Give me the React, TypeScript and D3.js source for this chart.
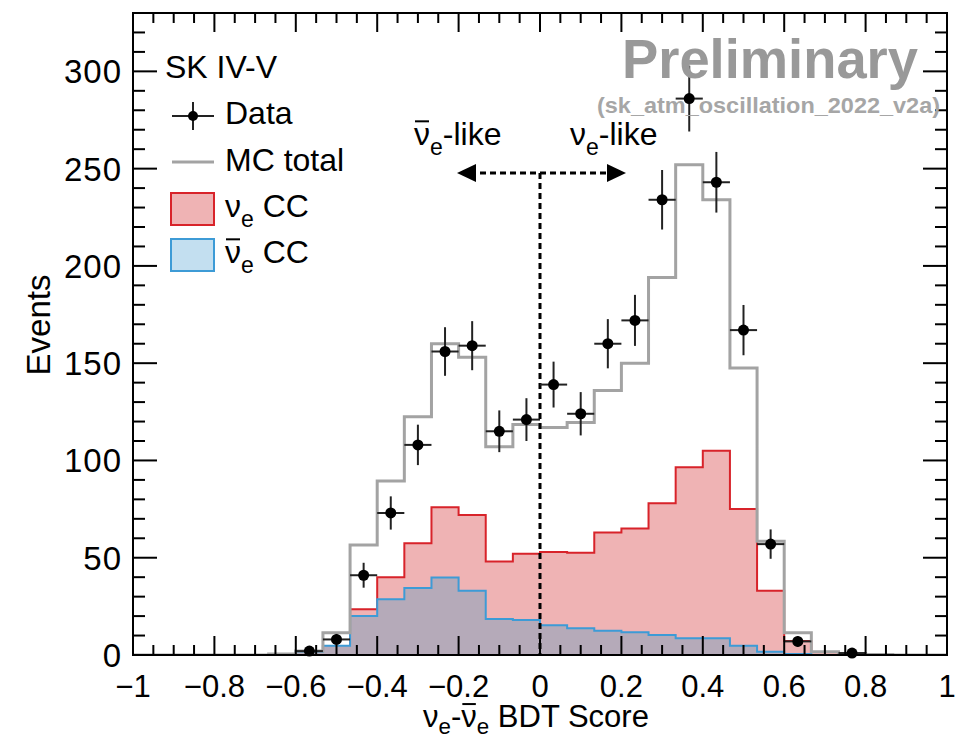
import { useEffect, useRef } from "react";
import * as d3 from "d3";

// 30 bins from -1 to 1
const binEdges = d3.range(31).map((i) => -1 + i / 15);

const dataCounts = [0, 0, 0, 0, 0, 0, 2, 8, 41, 73, 108, 156, 159, 115, 121, 139, 124, 160, 172, 234, 286, 243, 167, 57, 7, 0, 1, 0, 0, 0];
const mcTotal = [0, 0, 0, 0, 0, 0.5, 2, 11.5, 56.5, 89.5, 122.5, 160, 153, 107, 118.5, 117, 119.5, 136, 150, 194, 252, 234, 147.5, 58.5, 11.5, 1.7, 0.8, 0.3, 0, 0];
const nueCC = [0, 0, 0, 0, 0, 0, 1, 4.5, 23.5, 40, 57.5, 76, 72, 48, 52, 53, 52.6, 63, 65, 78, 96.5, 105, 75, 33, 7.2, 1.5, 0.3, 0, 0, 0];
const nuebarCC = [0, 0, 0, 0, 0, 0.3, 1.7, 4.7, 20, 28.7, 34.4, 39.8, 33, 18.5, 18, 15.3, 13.8, 12.5, 11.7, 10.3, 8.6, 8.6, 4.8, 1.7, 0.5, 0, 0, 0, 0, 0];

const xTickValues = [-1, -0.8, -0.6, -0.4, -0.2, 0, 0.2, 0.4, 0.6, 0.8, 1];
const xTickLabels = ["\u22121", "\u22120.8", "\u22120.6", "\u22120.4", "\u22120.2", "0", "0.2", "0.4", "0.6", "0.8", "1"];
const yTickValues = [0, 50, 100, 150, 200, 250, 300];

const FONT = "'Liberation Sans', Arial, Helvetica, sans-serif";

type Seg = { t: string; sub?: boolean; bar?: boolean };

// text with subscripts and overlined characters (nu-bar)
function richText(parent: any, x: number, y: number, size: number, segs: Seg[], anchor = "start", subShift = 0.3) {
  const t = parent
    .append("text")
    .attr("x", x)
    .attr("y", y)
    .attr("font-size", size)
    .attr("font-family", FONT)
    .attr("text-anchor", anchor)
    .attr("fill", "#000");
  let idx = 0;
  let inSub = false;
  const bars: number[] = [];
  segs.forEach((s) => {
    const ts = t.append("tspan").text(s.t);
    if (s.sub) {
      ts.attr("font-size", size * 0.72);
      if (!inSub) ts.attr("dy", size * subShift);
      inSub = true;
    } else if (inSub) {
      ts.attr("dy", -size * subShift);
      inSub = false;
    }
    if (s.bar) bars.push(idx);
    idx += s.t.length;
  });
  const node = t.node() as SVGTextElement;
  bars.forEach((i) => {
    const e = node.getExtentOfChar(i);
    parent
      .append("line")
      .attr("x1", e.x + 1)
      .attr("x2", e.x + e.width - 1)
      .attr("y1", y - size * 0.74)
      .attr("y2", y - size * 0.74)
      .attr("stroke", "#000")
      .attr("stroke-width", 2);
  });
  return t;
}

export default function App() {
  const ref = useRef<SVGSVGElement>(null);

  useEffect(() => {
    document.body.style.margin = "0";
    const svg = d3.select(ref.current);
    svg.selectAll("*").remove();

    const left = 133, right = 947, top = 13, bottom = 655;
    const x = d3.scaleLinear().domain([-1, 1]).range([left, right]);
    const y = d3.scaleLinear().domain([0, 330]).range([bottom, top]);

    svg.append("rect").attr("width", 956).attr("height", 740).attr("fill", "#fff");

    svg.append("clipPath").attr("id", "frame")
      .append("rect").attr("x", left).attr("y", top).attr("width", right - left).attr("height", bottom - top);

    const plot = svg.append("g").attr("clip-path", "url(#frame)");

    const steps = (vals: number[]) => [...vals.map((v, i) => [binEdges[i], v]), [binEdges[30], vals[29]]];
    const area = d3.area<number[]>().curve(d3.curveStepAfter).x((d) => x(d[0])).y0(y(0)).y1((d) => y(d[1]));
    const line = d3.line<number[]>().curve(d3.curveStepAfter).x((d) => x(d[0])).y((d) => y(d[1]));

    // nu_e CC
    plot.append("path").attr("d", area(steps(nueCC))).attr("fill", "#efb3b4");
    plot.append("path").attr("d", line(steps(nueCC))).attr("fill", "none").attr("stroke", "#d8232a").attr("stroke-width", 2);
    // nu_e-bar CC
    plot.append("path").attr("d", area(steps(nuebarCC))).attr("fill", "#b5aab9");
    plot.append("path").attr("d", line(steps(nuebarCC))).attr("fill", "none").attr("stroke", "#3d9bd6").attr("stroke-width", 2);
    // MC total
    plot.append("path").attr("d", line(steps(mcTotal))).attr("fill", "none").attr("stroke", "#a3a3a3").attr("stroke-width", 3);

    // divider and arrows
    const arrowY = 173;
    const dash = "6,4";
    svg.append("line").attr("x1", x(0)).attr("x2", x(0)).attr("y1", arrowY).attr("y2", bottom)
      .attr("stroke", "#000").attr("stroke-width", 3).attr("stroke-dasharray", dash);
    svg.append("line").attr("x1", 470).attr("x2", 612).attr("y1", arrowY).attr("y2", arrowY)
      .attr("stroke", "#000").attr("stroke-width", 3).attr("stroke-dasharray", dash);
    svg.append("path").attr("d", `M457,${arrowY} L476,${arrowY - 9} L476,${arrowY + 9} Z`).attr("fill", "#000");
    svg.append("path").attr("d", `M626,${arrowY} L607,${arrowY - 9} L607,${arrowY + 9} Z`).attr("fill", "#000");

    richText(svg, 414, 145, 32, [{ t: "\u03bd", bar: true }, { t: "e", sub: true }, { t: "-like" }]);
    richText(svg, 570, 145, 32, [{ t: "\u03bd" }, { t: "e", sub: true }, { t: "-like" }]);

    // data points
    const pts = dataCounts.map((c, i) => ({ c, x0: binEdges[i], x1: binEdges[i + 1] })).filter((d) => d.c > 0);
    const dg = svg.append("g").attr("stroke", "#222").attr("stroke-width", 2);
    pts.forEach((d) => {
      const cx = x((d.x0 + d.x1) / 2);
      const err = Math.sqrt(d.c);
      dg.append("line").attr("x1", x(d.x0)).attr("x2", x(d.x1)).attr("y1", y(d.c)).attr("y2", y(d.c));
      dg.append("line").attr("x1", cx).attr("x2", cx).attr("y1", y(d.c + err)).attr("y2", y(Math.max(0, d.c - err)));
      dg.append("circle").attr("cx", cx).attr("cy", y(d.c)).attr("r", 5.5).attr("fill", "#000").attr("stroke", "none");
    });

    // frame and ticks
    const ax = svg.append("g").attr("stroke", "#000").attr("stroke-width", 2);
    ax.append("rect").attr("x", left).attr("y", top).attr("width", right - left).attr("height", bottom - top).attr("fill", "none");
    d3.range(-1, 1.0001, 0.05).forEach((v) => {
      const major = Math.abs(v * 5 - Math.round(v * 5)) < 1e-6;
      const len = major ? 19 : 10;
      ax.append("line").attr("x1", x(v)).attr("x2", x(v)).attr("y1", bottom).attr("y2", bottom - len);
      ax.append("line").attr("x1", x(v)).attr("x2", x(v)).attr("y1", top).attr("y2", top + len);
    });
    d3.range(0, 331, 10).forEach((v) => {
      const major = v % 50 === 0;
      const len = major ? 24 : 12;
      ax.append("line").attr("x1", left).attr("x2", left + len).attr("y1", y(v)).attr("y2", y(v));
      ax.append("line").attr("x1", right).attr("x2", right - len).attr("y1", y(v)).attr("y2", y(v));
    });

    svg.append("g").selectAll("text").data(xTickValues).join("text")
      .attr("x", (d) => x(d)).attr("y", 697).attr("text-anchor", "middle")
      .attr("font-family", FONT).attr("font-size", 31)
      .text((d, i) => xTickLabels[i]);
    svg.append("g").selectAll("text").data(yTickValues).join("text")
      .attr("x", 122).attr("y", (d) => y(d)).attr("dy", "0.36em").attr("text-anchor", "end")
      .attr("font-family", FONT).attr("font-size", 33).attr("letter-spacing", 1)
      .text((d) => String(d));

    // axis titles
    svg.append("text").attr("transform", "translate(50,325) rotate(-90)").attr("text-anchor", "middle")
      .attr("font-family", FONT).attr("font-size", 33).text("Events");
    richText(svg, 536, 727, 31, [
      { t: "\u03bd" }, { t: "e", sub: true }, { t: "-" }, { t: "\u03bd", bar: true }, { t: "e", sub: true }, { t: " BDT Score" },
    ], "middle", 0.24);

    // preliminary stamp
    svg.append("text").attr("x", 622).attr("y", 78).attr("font-family", FONT).attr("font-weight", "bold")
      .attr("font-size", 55).attr("fill", "#999").attr("textLength", 296).attr("lengthAdjust", "spacingAndGlyphs")
      .text("Preliminary");
    svg.append("text").attr("x", 597).attr("y", 113).attr("font-family", FONT).attr("font-weight", "bold")
      .attr("font-size", 22).attr("fill", "#a6a6a6").attr("textLength", 343).attr("lengthAdjust", "spacingAndGlyphs")
      .text("(sk_atm_oscillation_2022_v2a)");

    // legend
    const lg = svg.append("g");
    lg.append("text").attr("x", 165).attr("y", 78).attr("font-family", FONT).attr("font-size", 32).text("SK IV-V");

    lg.append("line").attr("x1", 172).attr("x2", 214).attr("y1", 116).attr("y2", 116).attr("stroke", "#222").attr("stroke-width", 2);
    lg.append("line").attr("x1", 193).attr("x2", 193).attr("y1", 102).attr("y2", 130).attr("stroke", "#222").attr("stroke-width", 2);
    lg.append("circle").attr("cx", 193).attr("cy", 116).attr("r", 5).attr("fill", "#000");
    lg.append("text").attr("x", 225).attr("y", 124).attr("font-family", FONT).attr("font-size", 32).text("Data");

    lg.append("line").attr("x1", 172).attr("x2", 214).attr("y1", 162).attr("y2", 162).attr("stroke", "#a3a3a3").attr("stroke-width", 3);
    lg.append("text").attr("x", 225).attr("y", 171).attr("font-family", FONT).attr("font-size", 32).text("MC total");

    lg.append("rect").attr("x", 171).attr("y", 193).attr("width", 43).attr("height", 32)
      .attr("fill", "#efb3b4").attr("stroke", "#d8232a").attr("stroke-width", 2);
    richText(lg, 225, 217, 32, [{ t: "\u03bd" }, { t: "e", sub: true }, { t: " CC" }]);

    lg.append("rect").attr("x", 171).attr("y", 239).attr("width", 43).attr("height", 32)
      .attr("fill", "#c3dff0").attr("stroke", "#3d9bd6").attr("stroke-width", 2);
    richText(lg, 225, 263, 32, [{ t: "\u03bd", bar: true }, { t: "e", sub: true }, { t: " CC" }]);
  }, []);

  return <svg ref={ref} width={956} height={740} style={{ display: "block" }} />;
}
